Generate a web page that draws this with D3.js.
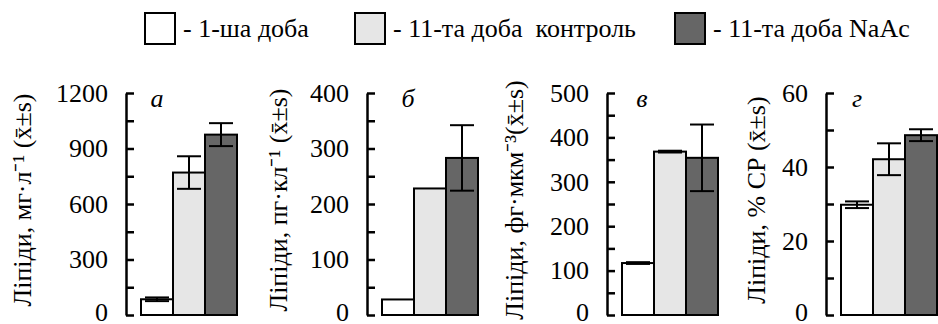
<!DOCTYPE html>
<html>
<head>
<meta charset="utf-8">
<script src="https://cdn.jsdelivr.net/npm/d3@7"></script>
</head>
<body style="margin:0;padding:0;background:#fff">
<div id="chart"></div>
<script>
/* data */
var groups = ['1-ша доба', '11-та доба  контроль', '11-та доба NaAc'];
var panelLetters = ['а', 'б', 'в', 'г'];
var yLabels = [
  'Ліпіди, мг·л\u207B\u00B9 (x\u0304±s)',
  'Ліпіди, пг·кл\u207B\u00B9 (x\u0304±s)',
  'Ліпіди, фг·мкм\u207B\u00B3(x\u0304±s)',
  'Ліпіди, % СР (x\u0304±s)'
];

var lipidPerVolume = [85, 770, 975];     // мг·л-1
var lipidPerVolumeSd = [10, 88, 62];
var lipidPerCell = [28, 228, 283];       // пг·кл-1
var lipidPerCellSd = [0, 0, 59];
var lipidPerBiovol = [117, 368, 354];    // фг·мкм-3
var lipidPerBiovolSd = [2, 2, 75];
var lipidPercent = [29.8, 42.1, 48.6];   // % СР
var lipidPercentSd = [0.9, 4.3, 1.6];

var ticksA = [0, 300, 600, 900, 1200];
var ticksB = [0, 100, 200, 300, 400];
var ticksC = [0, 100, 200, 300, 400, 500];
var ticksD = [0, 20, 40, 60];

(function drawLipids() {
  var W = 938, H = 324;
  var svg = d3.select('#chart').append('svg')
    .attr('width', W).attr('height', H);

  var fills = ['#ffffff', '#e6e6e6', '#666666'];
  var yTop = 93, yBot = 315;

  /* ── legend ── */
  var legX = [145, 355, 675];
  groups.forEach(function (g, i) {
    svg.append('rect')
      .attr('x', legX[i]).attr('y', 13).attr('width', 30).attr('height', 31)
      .attr('fill', fills[i]).attr('stroke', '#000').attr('stroke-width', 2);
    svg.append('text')
      .attr('x', legX[i] + 38).attr('y', 37)
      .attr('font-size', 26).attr('font-family', 'Liberation Serif')
      .text('- ' + g.replace('  ', ' \u00a0'));
  });

  /* ── panels ── */
  var panels = [
    { vals: lipidPerVolume, sd: lipidPerVolumeSd, ticks: ticksA },
    { vals: lipidPerCell, sd: lipidPerCellSd, ticks: ticksB },
    { vals: lipidPerBiovol, sd: lipidPerBiovolSd, ticks: ticksC },
    { vals: lipidPercent, sd: lipidPercentSd, ticks: ticksD }
  ];
  var axisX = [126, 367, 607, 826];
  var labelX = [31, 287, 523, 765];
  var letterDx = [31, 41, 35, 31];

  panels.forEach(function (p, pi) {
    var ax = axisX[pi];
    var top = p.ticks[p.ticks.length - 1];
    var step = p.ticks[1] - p.ticks[0];
    var y = d3.scaleLinear().domain([0, top]).range([yBot, yTop]);
    var x = d3.scaleBand().domain(groups).range([ax + 15, ax + 111]).padding(0);
    var allTicks = d3.range(0, top + step / 4, step / 2);

    /* bars */
    svg.selectAll(null).data(p.vals).enter().append('rect')
      .attr('x', function (d, i) { return x(groups[i]); })
      .attr('y', function (d) { return y(d); })
      .attr('width', x.bandwidth())
      .attr('height', function (d) { return y(0) - y(d); })
      .attr('fill', function (d, i) { return fills[i]; })
      .attr('stroke', '#000').attr('stroke-width', 2);

    /* error bars */
    var cap = 12;
    p.vals.forEach(function (v, i) {
      var s = p.sd[i];
      if (!s) return;
      var cx = x(groups[i]) + x.bandwidth() / 2;
      var eb = svg.append('g').attr('stroke', '#000').attr('stroke-width', 2);
      eb.append('line').attr('x1', cx).attr('x2', cx)
        .attr('y1', y(v + s)).attr('y2', y(v - s));
      eb.append('line').attr('x1', cx - cap).attr('x2', cx + cap)
        .attr('y1', y(v + s)).attr('y2', y(v + s));
      eb.append('line').attr('x1', cx - cap).attr('x2', cx + cap)
        .attr('y1', y(v - s)).attr('y2', y(v - s));
    });

    /* y axis, ticks pointing inward */
    var axis = d3.axisLeft(y)
      .tickValues(allTicks)
      .tickSizeInner(-8).tickSizeOuter(0).tickPadding(18)
      .tickFormat(function (d) { return p.ticks.indexOf(d) >= 0 ? d : ''; });
    var ag = svg.append('g').attr('transform', 'translate(' + ax + ',0)').call(axis);
    ag.attr('font-family', 'Liberation Serif').attr('font-size', 26);
    ag.select('.domain').attr('stroke', '#000').attr('stroke-width', 2.5);
    ag.selectAll('.tick line').attr('stroke', '#000').attr('stroke-width', 2.5);
    ag.selectAll('.tick text')
      .attr('dy', function (d) { return d === 0 ? '0.22em' : '0.32em'; });

    /* panel letter */
    svg.append('text')
      .attr('x', ax + letterDx[pi]).attr('y', 107)
      .attr('text-anchor', 'middle')
      .attr('font-size', 26).attr('font-style', 'italic')
      .attr('font-family', 'Liberation Serif')
      .text(panelLetters[pi]);

    /* rotated y label */
    svg.append('text')
      .attr('transform', 'translate(' + labelX[pi] + ',200) rotate(-90)')
      .attr('text-anchor', 'middle')
      .attr('font-size', 26).attr('font-family', 'Liberation Serif')
      .text(yLabels[pi]);
  });
}());
</script>
</body>
</html>
